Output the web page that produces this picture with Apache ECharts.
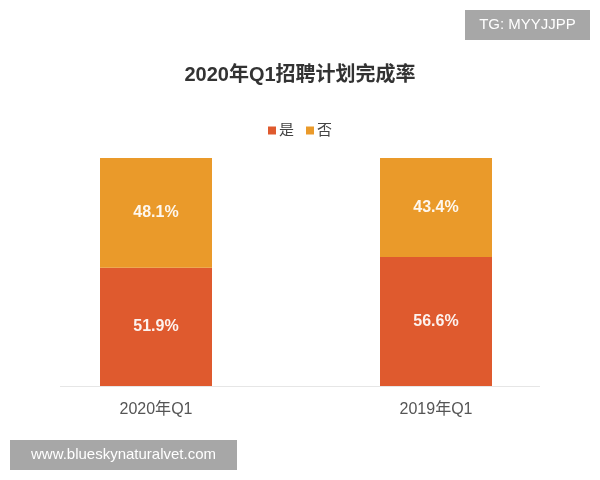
<!DOCTYPE html>
<html>
<head>
<meta charset="utf-8">
<script src="https://cdn.jsdelivr.net/npm/echarts@6/dist/echarts.min.js"></script>
<style>html,body{margin:0;padding:0;background:#fff}#c{width:600px;height:480px}</style>
</head>
<body>
<div id="c"></div>
<script>
var categories = ['2020年Q1', '2019年Q1'];
var yesValues = [51.9, 56.6];
var noValues = [48.1, 43.4];
var seriesNames = ['是', '否'];
var titleText = '2020年Q1招聘计划完成率';

var FONT = '"Liberation Sans", "Noto Sans CJK SC", sans-serif';
var chart = echarts.init(document.getElementById('c'), null, {renderer: 'canvas'});
var labelCfg = {
  show: true, position: 'inside', color: 'rgba(255,255,255,0.92)',
  fontSize: 16, fontWeight: 'bold', fontFamily: FONT,
  formatter: function (p) { return p.value.toFixed(1) + '%'; }
};
chart.setOption({
  backgroundColor: '#fff',
  animation: false,
  title: {
    text: titleText, left: 'center', top: 60,
    textStyle: {fontSize: 20, fontWeight: 'bold', color: '#333', fontFamily: FONT}
  },
  legend: {
    data: seriesNames, top: 118, left: 'center',
    itemWidth: 8, itemHeight: 8, itemGap: 12, icon: 'rect',
    textStyle: {fontSize: 15, color: '#444', fontFamily: FONT, padding: [0, 0, 0, -2]}
  },
  grid: {left: 16, right: 24, top: 158, bottom: 94},
  xAxis: {
    type: 'category', data: categories,
    axisLine: {show: false}, axisTick: {show: false},
    axisLabel: {fontSize: 16, color: '#555', margin: 16, fontFamily: FONT}
  },
  yAxis: {type: 'value', min: 0, max: 100, show: false, splitLine: {show: false}},
  series: [
    {name: seriesNames[0], type: 'bar', stack: 'a', data: yesValues, barWidth: 112,
     itemStyle: {color: '#DF5A2E'}, label: labelCfg},
    {name: seriesNames[1], type: 'bar', stack: 'a', data: noValues, barWidth: 112,
     itemStyle: {color: '#EA9A2A'}, label: labelCfg}
  ],
  graphic: [
    {type: 'line', shape: {x1: 60, y1: 386.5, x2: 540, y2: 386.5}, style: {stroke: '#e6e6e6', lineWidth: 1}, z: 0},
    {type: 'rect', shape: {x: 465, y: 10, width: 125, height: 30}, style: {fill: '#a7a7a7'}},
    {type: 'text', x: 527.5, y: 25, style: {text: 'TG: MYYJJPP', fill: '#fff', fontSize: 15, fontFamily: FONT, textAlign: 'center', textVerticalAlign: 'middle'}},
    {type: 'rect', shape: {x: 10, y: 440, width: 227, height: 30}, style: {fill: '#a7a7a7'}},
    {type: 'text', x: 123.5, y: 455, style: {text: 'www.blueskynaturalvet.com', fill: '#fff', fontSize: 15, fontFamily: FONT, textAlign: 'center', textVerticalAlign: 'middle'}}
  ]
});
</script>
</body>
</html>
